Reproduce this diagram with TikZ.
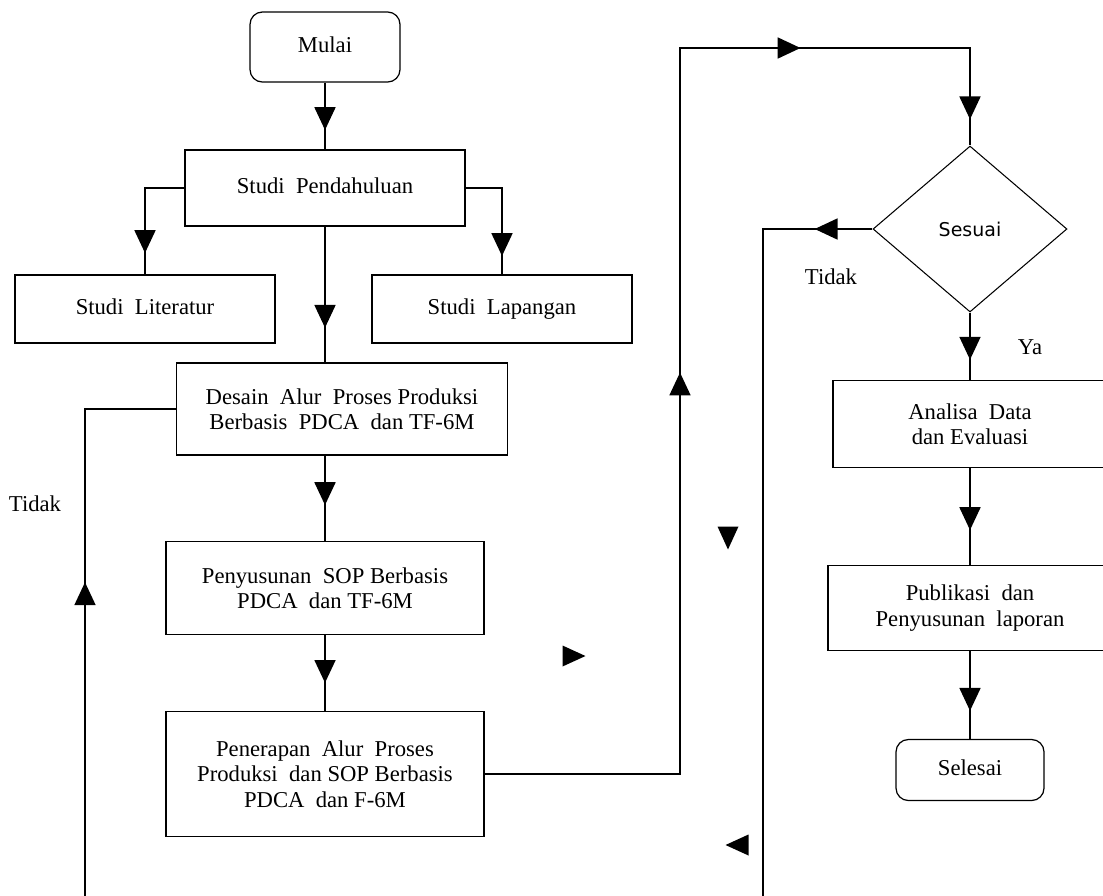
\documentclass[tikz,border=0pt]{standalone}
\usepackage{fontspec}
\setmainfont{Liberation Serif}
\newfontfamily\sansDV{DejaVu Sans}
\usetikzlibrary{shapes.geometric,arrows.meta,decorations.markings}

\def \lineW {0.8pt}
\def \tipW {12pt}
\def \tipL {13pt}

\newcommand{\looseTip}[2]{\fill[shift={#1}, rotate=#2] (0.23cm,0cm) -- (-0.23cm,0.21cm) -- (-0.23cm,-0.21cm) -- cycle;}

\tikzset{
   box/.style={draw, line width=0.7pt, align=center, inner sep=2pt, font=\fontsize{12.9}{14.5}\selectfont},
   oneline/.style={text height=1.7ex, text depth=0.45ex},
   terminal/.style={box, oneline, rounded corners=7pt},
   decision/.style={draw, diamond, line width=0.6pt, inner sep=0pt, aspect=1.17, font=\sansDV\fontsize{10.8}{13}\selectfont},
   flow/.style={line width=\lineW},
   tipat/.style={flow, postaction={decorate}, decoration={markings, mark=at position #1 with {\arrow{Triangle[width=\tipW,length=\tipL]}}}},
   note/.style={font=\fontsize{12.9}{14.5}\selectfont}
}

\begin{document}
\begin{tikzpicture}[x=0.02cm, y=-0.02cm]

      \useasboundingbox (0,0) rectangle (1103,896);
      \clip (0,0) rectangle (1103,896);

      % left column
      \node[terminal, minimum width=3cm, minimum height=1.4cm] (mulai) at (325,47) {Mulai};
      \node[box, oneline, minimum width=5.6cm, minimum height=1.52cm] (pend) at (325,188) {Studi\ \ Pendahuluan};
      \node[box, oneline, minimum width=5.2cm, minimum height=1.36cm] (lit) at (145,309) {Studi\ \ Literatur};
      \node[box, oneline, minimum width=5.2cm, minimum height=1.36cm] (lap) at (502,309) {Studi\ \ Lapangan};
      \node[box, minimum width=6.62cm, minimum height=1.84cm] (desain) at (342,409) {Desain\ \ Alur\ \ Proses Produksi\\Berbasis\ \ PDCA\ \ dan\ TF-6M};
      \node[box, minimum width=6.36cm, minimum height=1.86cm] (susun) at (325,588) {Penyusunan\ \ SOP Berbasis\\PDCA\ \ dan\ TF-6M};
      \node[box, minimum width=6.36cm, minimum height=2.5cm] (terap) at (325,774) {Penerapan\ \ Alur\ \ Proses\\Produksi\ \ dan SOP Berbasis\\PDCA\ \ dan\ F-6M};

      % right column
      \node[decision, minimum width=3.88cm, minimum height=3.32cm] (dia) at (970,229) {Sesuai};
      \node[box, minimum width=5.48cm, minimum height=1.74cm] (analisa) at (970,424) {Analisa\ \ Data\\dan Evaluasi};
      \node[box, minimum width=5.68cm, minimum height=1.7cm] (publik) at (970,608) {Publikasi\ \ dan\\Penyusunan\ \ laporan};
      \node[terminal, minimum width=2.96cm, minimum height=1.22cm] (selesai) at (970,770) {Selesai};

      \node[note] (tidakL) at (35,504) {Tidak};
      \node[note] (tidakR) at (831,277) {Tidak};
      \node[note] (ya) at (1030,347) {Ya};

      \coordinate (botL) at (85,900);
      \coordinate (botR) at (763,900);
      \coordinate (topL) at (680,48);

      \draw[tipat=0.71] (mulai.south) -- (pend.north);
      \draw[tipat=0.83] (pend.west) -| (lit.north);
      \draw[tipat=0.85] (pend.east) -| (lap.north);
      \draw[tipat=0.745] (pend.south) -- (pend.south |- desain.north);
      \draw[tipat=0.58] (susun.north |- desain.south) -- (susun.north);
      \draw[tipat=0.63] (susun.south) -- (terap.north);
      \draw[tipat=0.546] (botL) |- (desain.west);

      \draw[flow, postaction={decorate}, decoration={markings,
            mark=at position 0.456 with {\arrow{Triangle[width=\tipW,length=\tipL]}},
            mark=at position 0.796 with {\arrow{Triangle[width=\tipW,length=\tipL]}},
            mark=at position 0.98 with {\arrow{Triangle[width=\tipW,length=\tipL]}}}]
         (terap.east) -| (topL) -| (dia.north);

      \draw[tipat=0.074] (dia.west) -| (botR);
      \draw[tipat=0.70] (dia.south) -- (analisa.north);
      \draw[tipat=0.64] (analisa.south) -- (publik.north);
      \draw[tipat=0.68] (publik.south) -- (selesai.north);

      \looseTip{(728,538)}{-90}
      \looseTip{(574,656)}{0}
      \looseTip{(737,845)}{180}

\end{tikzpicture}
\end{document}
